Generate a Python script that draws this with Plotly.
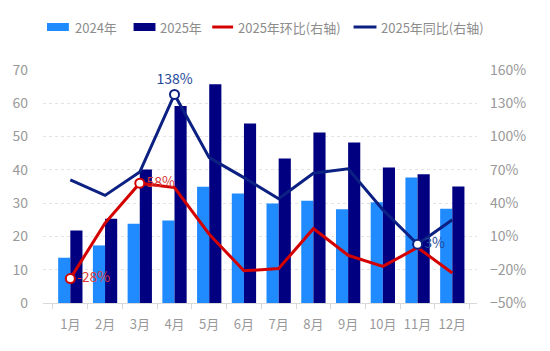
import plotly.graph_objects as go

months = ["1月", "2月", "3月", "4月", "5月", "6月", "7月", "8月", "9月", "10月", "11月", "12月"]
sales_2024 = [13.6, 17.3, 23.8, 24.8, 34.9, 32.9, 29.9, 30.7, 28.2, 30.3, 37.7, 28.3]
sales_2025 = [21.8, 25.3, 40.1, 59.2, 65.7, 53.9, 43.4, 51.2, 48.2, 40.7, 38.7, 35.0]
mom_2025 = [-28, 22, 58, 54, 12, -21, -19, 17, -7, -17, 0, -23]
yoy_2025 = [61, 47, 68, 138, 81, 63, 44, 67, 71, 34, 3, 25]

mom_labels = ["-28%", "", "58%", "", "", "", "", "", "", "", "", ""]
yoy_labels = ["", "", "", "138%", "", "", "", "", "", "", "3%", ""]

legend_names = ["2024年", "2025年", "2025年环比(右轴)", "2025年同比(右轴)"]

C24 = "#1F8BFF"
C25 = "#000080"
CRED = "#D40000"
CYOY = "#0B2082"
GRAY = "#999999"
FONT = "Noto Sans CJK SC, Noto Sans, sans-serif"

W, H = 550, 351
ML, MR, MT, MB = 41, 73, 70, 48
PW, PH = W - ML - MR, H - MT - MB


def px_x(x):
    return (x - ML) / PW


def px_y(y):
    return (H - MB - y) / PH


fig = go.Figure()
fig.add_trace(go.Bar(x=months, y=sales_2024, name=legend_names[0], showlegend=False,
                     marker=dict(color=C24, line=dict(width=0))))
fig.add_trace(go.Bar(x=months, y=sales_2025, name=legend_names[1], showlegend=False,
                     marker=dict(color=C25, line=dict(width=0))))

fig.add_trace(go.Scatter(
    x=months, y=mom_2025, name=legend_names[2], yaxis="y2", showlegend=False,
    mode="lines+markers+text",
    line=dict(color=CRED, width=3),
    marker=dict(size=[9 if t else 0 for t in mom_labels], color="white", opacity=1,
                line=dict(color=CRED, width=2)),
    text=mom_labels, textposition="middle right",
    textfont=dict(color="#D83A3A", size=14, family=FONT),
    cliponaxis=False,
))
fig.add_trace(go.Scatter(
    x=months, y=yoy_2025, name=legend_names[3], yaxis="y2", showlegend=False,
    mode="lines+markers+text",
    line=dict(color=CYOY, width=3),
    marker=dict(size=[9 if t else 0 for t in yoy_labels], color="white", opacity=1,
                line=dict(color=CYOY, width=2)),
    text=yoy_labels,
    textposition=["top center" if t == "138%" else "middle right" for t in yoy_labels],
    textfont=dict(color="#1F4A9A", size=14, family=FONT),
    cliponaxis=False,
))

# custom legend (symbol geometry like the reference)
leg_y = 27
leg_items = [
    ("rect", C24, 45, 67, 71),
    ("rect", C25, 132, 154, 157),
    ("line", CRED, 211, 232, 235),
    ("line", CYOY, 353, 376, 379),
]
shapes = []
annotations = []
for (kind, col, x0, x1, tx), name in zip(leg_items, legend_names):
    if kind == "rect":
        shapes.append(dict(type="rect", xref="paper", yref="paper",
                           x0=px_x(x0), x1=px_x(x1), y0=px_y(leg_y + 4), y1=px_y(leg_y - 4),
                           fillcolor=col, line=dict(width=0)))
    else:
        shapes.append(dict(type="line", xref="paper", yref="paper",
                           x0=px_x(x0), x1=px_x(x1), y0=px_y(leg_y), y1=px_y(leg_y),
                           line=dict(color=col, width=3)))
    annotations.append(dict(text=name, xref="paper", yref="paper", x=px_x(tx), y=px_y(leg_y),
                            xanchor="left", yanchor="middle", showarrow=False,
                            font=dict(size=13, color="#8C8C8C", family=FONT)))

fig.update_layout(
    width=W, height=H,
    margin=dict(l=ML, r=MR, t=MT, b=MB),
    plot_bgcolor="white", paper_bgcolor="white",
    font=dict(family=FONT, color=GRAY, size=13),
    barmode="group", bargap=0.30, bargroupgap=0.0,
    showlegend=False,
    shapes=shapes, annotations=annotations,
    xaxis=dict(showgrid=False, showline=True, linecolor="#D9D9D9", linewidth=1,
               ticks="outside", tickson="boundaries", ticklen=5, tickcolor="#D9D9D9",
               tickangle=0, tickfont=dict(size=13, color=GRAY), ticklabelstandoff=9),
    yaxis=dict(range=[0, 70], dtick=10, tick0=0, showgrid=True, gridcolor="#E3E3E3", griddash="dot",
               zeroline=False, tickfont=dict(size=14, color=GRAY), ticklabelstandoff=14),
    yaxis2=dict(range=[-50, 160], dtick=30, tick0=-50, overlaying="y", side="right", showgrid=False,
                zeroline=False, ticksuffix="%", tickfont=dict(size=14, color=GRAY),
                ticklabelstandoff=12),
)

fig.write_html("out.html")
